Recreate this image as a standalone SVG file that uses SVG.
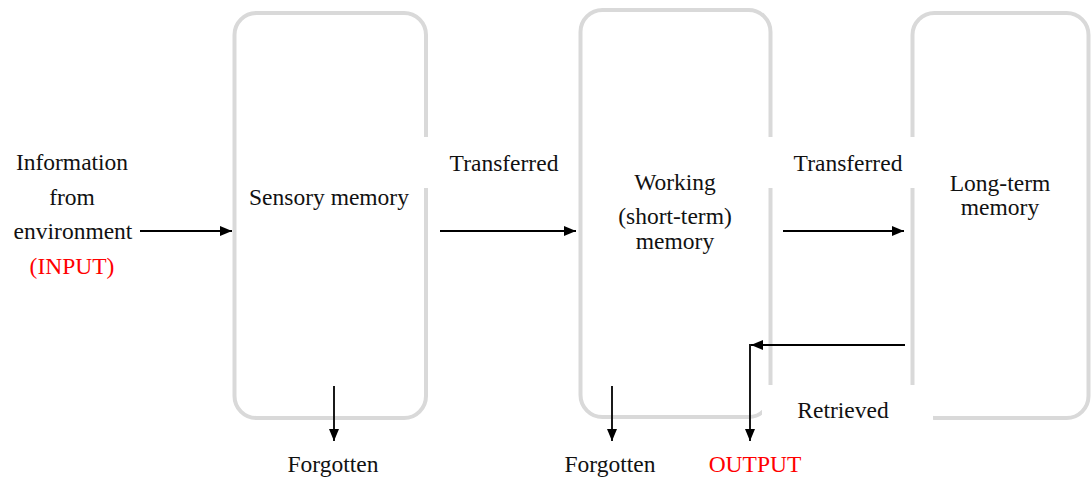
<svg xmlns="http://www.w3.org/2000/svg" width="1091" height="478" viewBox="0 0 1091 478">
  <style>
    .box { fill: none; stroke: #d9d9d9; stroke-width: 4; }
    .mask { fill: #ffffff; stroke: none; }
    .lbl { font-family: "Liberation Serif", "Times New Roman", serif; font-size: 23.5px; fill: #111111; text-anchor: middle; }
    .red { fill: #ff0000; }
    .conn { stroke: #000000; stroke-width: 1.8; fill: none; }
  </style>
  <defs>
    <marker id="arrow" viewBox="0 0 12 10" refX="12" refY="5" markerWidth="12" markerHeight="10" markerUnits="userSpaceOnUse" orient="auto">
      <path d="M0,0 L12,5 L0,10 Z" fill="#000000"/>
    </marker>
  </defs>
  <rect width="1091" height="478" fill="#ffffff"/>

  <!-- memory stores -->
  <g id="sensory">
    <rect class="box" x="234.5" y="13" width="191.5" height="405" rx="22"/>
    <text class="lbl" x="329" y="205">Sensory memory</text>
  </g>
  <g id="working">
    <rect class="box" x="580.5" y="10" width="190" height="407" rx="22"/>
    <text class="lbl" x="675" y="190">Working</text>
    <text class="lbl" x="675" y="224">(short-term)</text>
    <text class="lbl" x="675" y="249">memory</text>
  </g>
  <g id="longterm">
    <rect class="box" x="912.5" y="13" width="176" height="405" rx="22"/>
    <text class="lbl" x="1000" y="191">Long-term</text>
    <text class="lbl" x="1000" y="215">memory</text>
  </g>

  <!-- transfer labels sit on white patches that break the box outlines -->
  <g id="transferred1">
    <rect class="mask" x="423" y="137" width="154" height="51"/>
    <text class="lbl" x="504" y="171">Transferred</text>
  </g>
  <g id="transferred2">
    <rect class="mask" x="767" y="137" width="148" height="51"/>
    <text class="lbl" x="848" y="171">Transferred</text>
  </g>
  <g id="retrieved">
    <rect class="mask" x="762" y="385" width="171" height="45"/>
    <text class="lbl" x="843" y="418">Retrieved</text>
  </g>

  <g id="input">
    <text class="lbl" x="72" y="170">Information</text>
    <text class="lbl" x="72" y="205">from</text>
    <text class="lbl" x="73" y="239">environment</text>
    <text class="lbl red" x="72" y="274">(INPUT)</text>
  </g>
  <g id="forgotten1">
    <text class="lbl" x="333" y="472">Forgotten</text>
  </g>
  <g id="forgotten2">
    <text class="lbl" x="610" y="472">Forgotten</text>
  </g>
  <g id="output">
    <text class="lbl red" x="755" y="472">OUTPUT</text>
  </g>

  <!-- connectors -->
  <g id="connectors">
    <line class="conn" x1="140" y1="231" x2="232" y2="231" marker-end="url(#arrow)"/>
    <line class="conn" x1="440" y1="231" x2="576" y2="231" marker-end="url(#arrow)"/>
    <line class="conn" x1="783" y1="231" x2="904" y2="231" marker-end="url(#arrow)"/>
    <line class="conn" x1="905" y1="345" x2="751" y2="345" marker-end="url(#arrow)"/>
    <line class="conn" x1="750" y1="344.1" x2="750" y2="441" marker-end="url(#arrow)"/>
    <line class="conn" x1="334" y1="386" x2="334" y2="441" marker-end="url(#arrow)"/>
    <line class="conn" x1="612" y1="386" x2="612" y2="441" marker-end="url(#arrow)"/>
  </g>
</svg>
